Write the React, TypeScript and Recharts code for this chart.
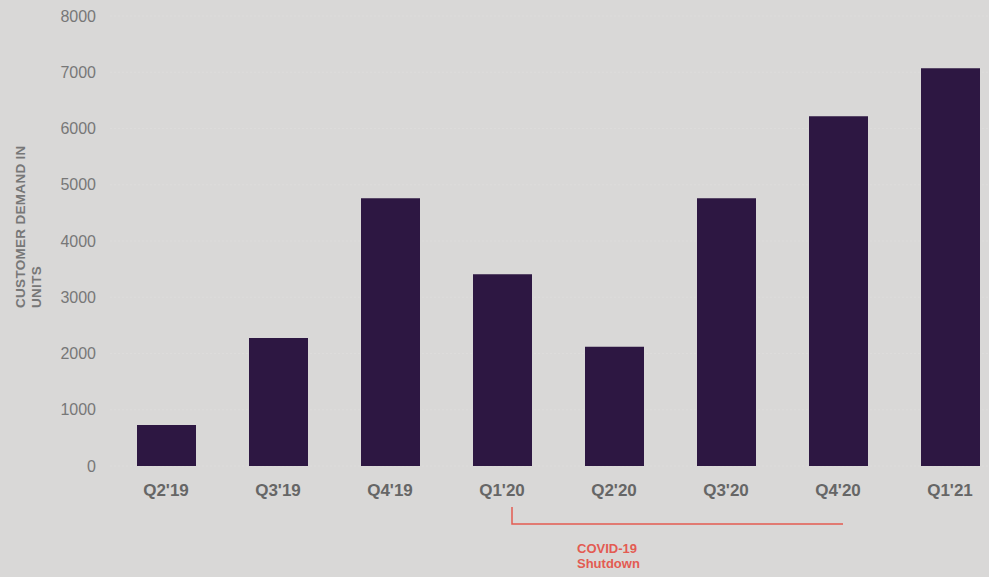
import { Bar, BarChart, CartesianGrid, XAxis, YAxis } from "recharts";

const quarters = ["Q2'19", "Q3'19", "Q4'19", "Q1'20", "Q2'20", "Q3'20", "Q4'20", "Q1'21"];
const demand = [730, 2275, 4760, 3410, 2120, 4760, 6220, 7070];
const yTicks = [0, 1000, 2000, 3000, 4000, 5000, 6000, 7000, 8000];
const yTitle = ["CUSTOMER DEMAND IN", "UNITS"];
const note = ["COVID-19", "Shutdown"];

const dados = quarters.map((q, i) => ({ q, units: demand[i] }));

const BG = "#d9d8d7";
const RED = "#e35b52";

export default function App() {
  return (
    <div
      style={{
        position: "absolute",
        left: 0,
        top: 0,
        width: 989,
        height: 577,
        overflow: "hidden",
        background: BG,
        fontFamily: "'Liberation Sans', Arial, sans-serif",
      }}
    >
      <BarChart
        width={1006}
        height={577}
        data={dados}
        margin={{ top: 16, right: 0, bottom: 81, left: 10 }}
        barSize={59}
      >
        <CartesianGrid vertical={false} stroke="#dddcdb" strokeDasharray="2 2" />
        <XAxis
          dataKey="q"
          axisLine={false}
          tickLine={false}
          tickSize={0}
          tickMargin={18}
          height={30}
          interval={0}
          tick={{ fill: "#666", fontSize: 17, fontWeight: 700 }}
        />
        <YAxis
          width={100}
          domain={[0, 8000]}
          ticks={yTicks}
          axisLine={false}
          tickLine={false}
          tickSize={0}
          tickMargin={14}
          tick={{ fill: "#777", fontSize: 16 }}
        />
        <Bar dataKey="units" fill="#2d1742" isAnimationActive={false} />
      </BarChart>
      <svg
        width={989}
        height={577}
        style={{ position: "absolute", left: 0, top: 0, pointerEvents: "none" }}
      >
        {yTitle.map((t, i) => (
          <text
            key={t}
            transform={`translate(${25 + i * 16},308) rotate(-90)`}
            fill="#777"
            fontSize={13.5}
            fontWeight={700}
            letterSpacing={0.3}
            textAnchor="start"
          >
            {t}
          </text>
        ))}
        <polyline
          points="512,507 512,524 843,524"
          fill="none"
          stroke={RED}
          strokeWidth={1.5}
        />
        {note.map((t, i) => (
          <text key={t} x={577} y={553 + i * 15} fill={RED} fontSize={13} fontWeight={700}>
            {t}
          </text>
        ))}
      </svg>
    </div>
  );
}
